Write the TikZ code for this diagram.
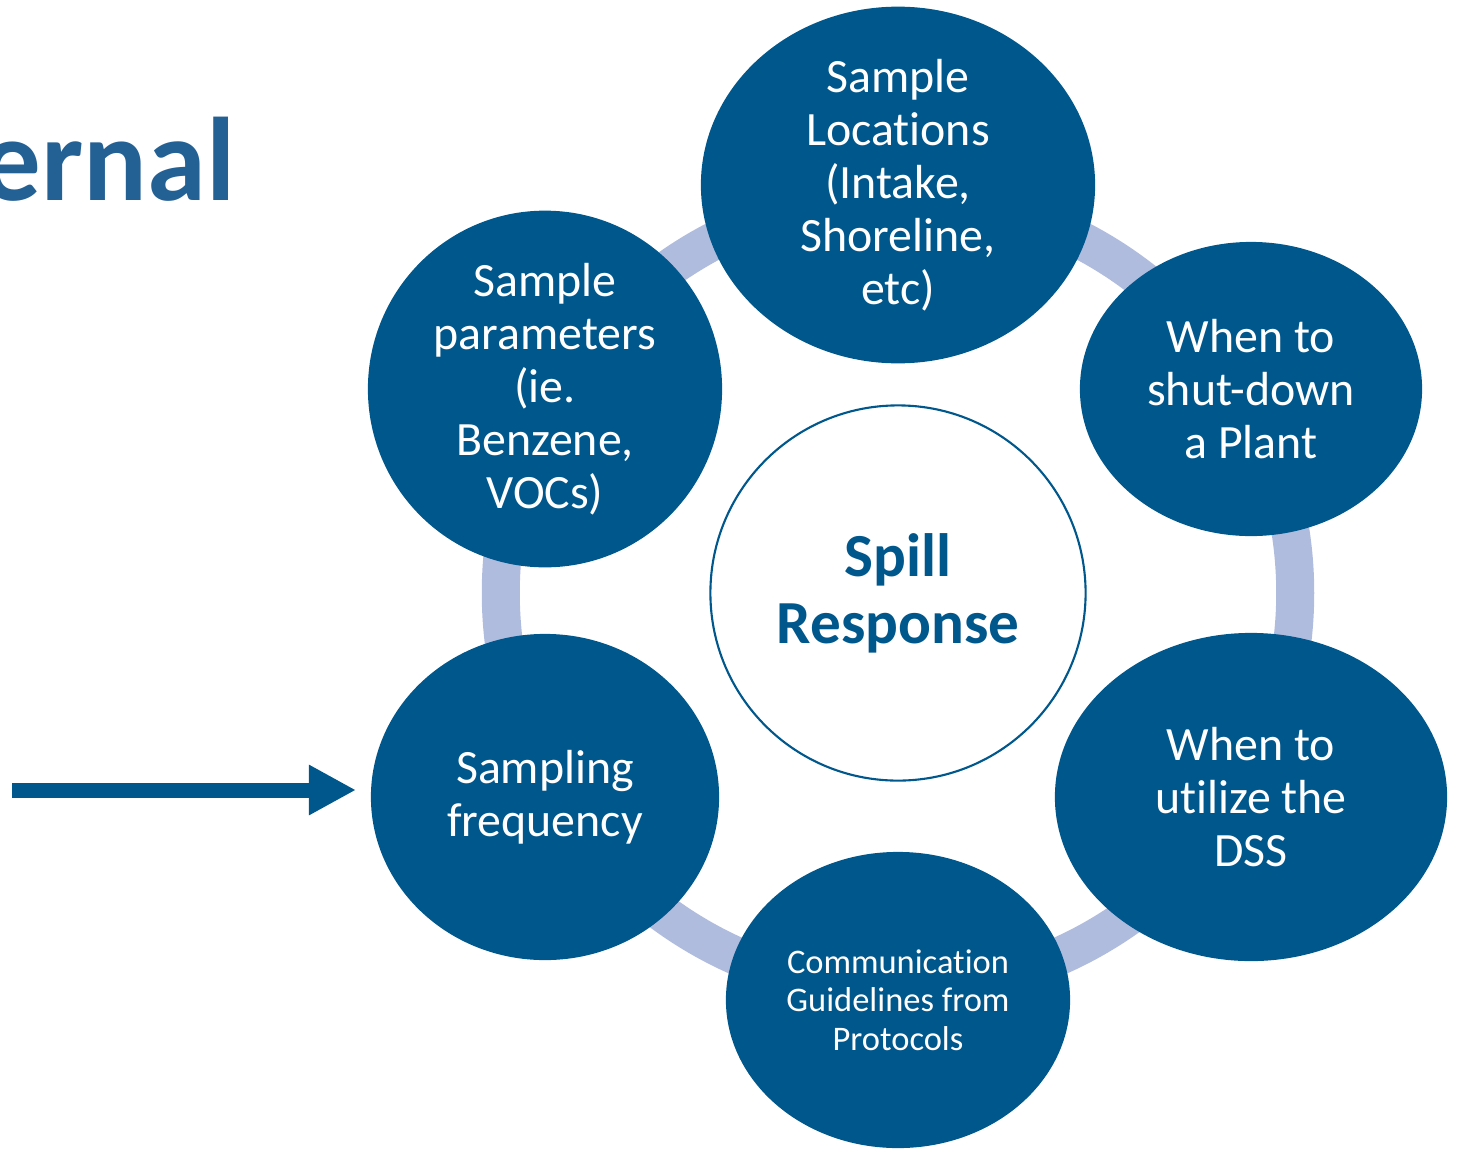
\documentclass[tikz,border=0pt]{standalone}
\usepackage{fontspec}
\setmainfont[Ligatures=NoCommon]{Carlito}
\usetikzlibrary{shapes.geometric,arrows.meta}
\definecolor{dblue}{RGB}{0,87,140}
\definecolor{ringc}{RGB}{176,188,222}
\definecolor{titleblue}{RGB}{35,96,148}
\tikzset{
  bubble/.style={ellipse, fill=dblue, draw=none, text=white, align=center, inner sep=0pt,
    font=\fontsize{13.6pt}{15.1pt}\selectfont},
  ring/.style={draw=ringc, line width=0.38cm},
  hub/.style={circle, fill=white, draw=dblue, line width=0.6pt, minimum size=3.75cm, inner sep=0pt,
    text=dblue, align=center, font=\bfseries\fontsize{17.4pt}{19.1pt}\selectfont},
  bigarrow/.style={draw=dblue, line width=0.15cm, -{Triangle[length=0.47cm 0, width=0.47cm 0]}}
}
\begin{document}
\begin{tikzpicture}[x=0.01cm, y=-0.01cm]
\useasboundingbox (0,0) rectangle (1460,1148);
\coordinate (ctr) at (898,593);
\draw[ring] (ctr) circle [radius=3.97cm];
\node[hub] (hub) at (ctr) {Spill\\Response};
\node[bubble, minimum width=3.94cm, minimum height=3.54cm] (top) at (898,185)
  {Sample\\Locations\\(Intake,\\Shoreline,\\etc)};
\node[bubble, minimum width=3.42cm, minimum height=2.94cm] (ur) at (1251,389)
  {When to\\shut-down\\a Plant};
\node[bubble, minimum width=3.92cm, minimum height=3.28cm] (lr) at (1251,797)
  {When to\\utilize the\\DSS};
\node[bubble, minimum width=3.44cm, minimum height=2.96cm,
  font=\fontsize{9.8pt}{10.95pt}\selectfont] (bot) at (898,1000)
  {Communication\\Guidelines from\\Protocols};
\node[bubble, minimum width=3.48cm, minimum height=3.26cm] (ll) at (545,797)
  {Sampling\\frequency};
\node[bubble, minimum width=3.54cm, minimum height=3.26cm] (ul) at (545,389)
  {Sample\\parameters\\(ie.\\Benzene,\\VOCs)};
\node[anchor=base east, inner sep=0pt, text=titleblue,
  font=\bfseries\fontsize{33.8pt}{40pt}\selectfont] (title) at (236,200) {ernal};
\coordinate (a1) at (12,790);
\coordinate (a2) at (356,790);
\draw[bigarrow] (a1) -- (a2);
\end{tikzpicture}
\end{document}
